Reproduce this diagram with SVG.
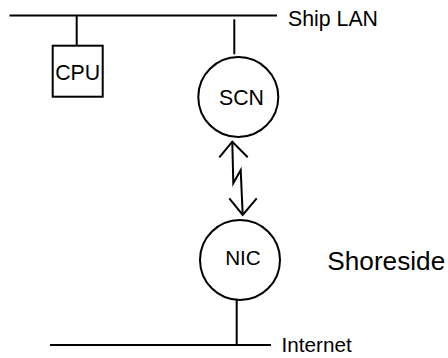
<svg xmlns="http://www.w3.org/2000/svg" width="448" height="358" viewBox="0 0 448 358">
<style>
.ln{stroke:#000;stroke-width:2;fill:none;stroke-linecap:butt}
.nd{stroke:#000;stroke-width:2;fill:#fff}
.t{font-family:"Liberation Sans",Arial,sans-serif;fill:#000}
</style>
<rect width="448" height="358" fill="#fff"/>
<g id="connectors">
<line class="ln" x1="9.5" y1="15.5" x2="277" y2="15.5"/>
<line class="ln" x1="76.7" y1="15.5" x2="76.7" y2="45.7"/>
<line class="ln" x1="234.3" y1="19.3" x2="234.3" y2="54.3"/>
<line class="ln" x1="236.7" y1="300" x2="236.7" y2="345"/>
<line class="ln" x1="50" y1="345" x2="271" y2="345"/>
<polyline class="ln" points="232.3,141.7 233.3,183.3 240.7,170 242.7,215"/>
<polyline class="ln" points="219.3,157.3 232.3,141.7 247.7,157.3"/>
<polyline class="ln" points="229.3,198.3 242.7,215 256.7,198.3"/>
</g>
<g id="cpu">
<rect class="nd" x="52.7" y="45.7" width="50" height="51"/>
<text class="t" x="77.7" y="80" font-size="21.3" text-anchor="middle">CPU</text>
</g>
<g id="scn">
<circle class="nd" cx="238.3" cy="97" r="40"/>
<text class="t" x="241.5" y="105" font-size="21.3" text-anchor="middle">SCN</text>
</g>
<g id="nic">
<circle class="nd" cx="240" cy="260" r="40"/>
<text class="t" x="243" y="265" font-size="20.7" text-anchor="middle">NIC</text>
</g>
<g id="labels">
<text class="t" x="288" y="26" font-size="21.3">Ship LAN</text>
<text class="t" x="327.3" y="270" font-size="26.2">Shoreside</text>
<text class="t" x="281.5" y="352" font-size="20.7">Internet</text>
</g>
</svg>
